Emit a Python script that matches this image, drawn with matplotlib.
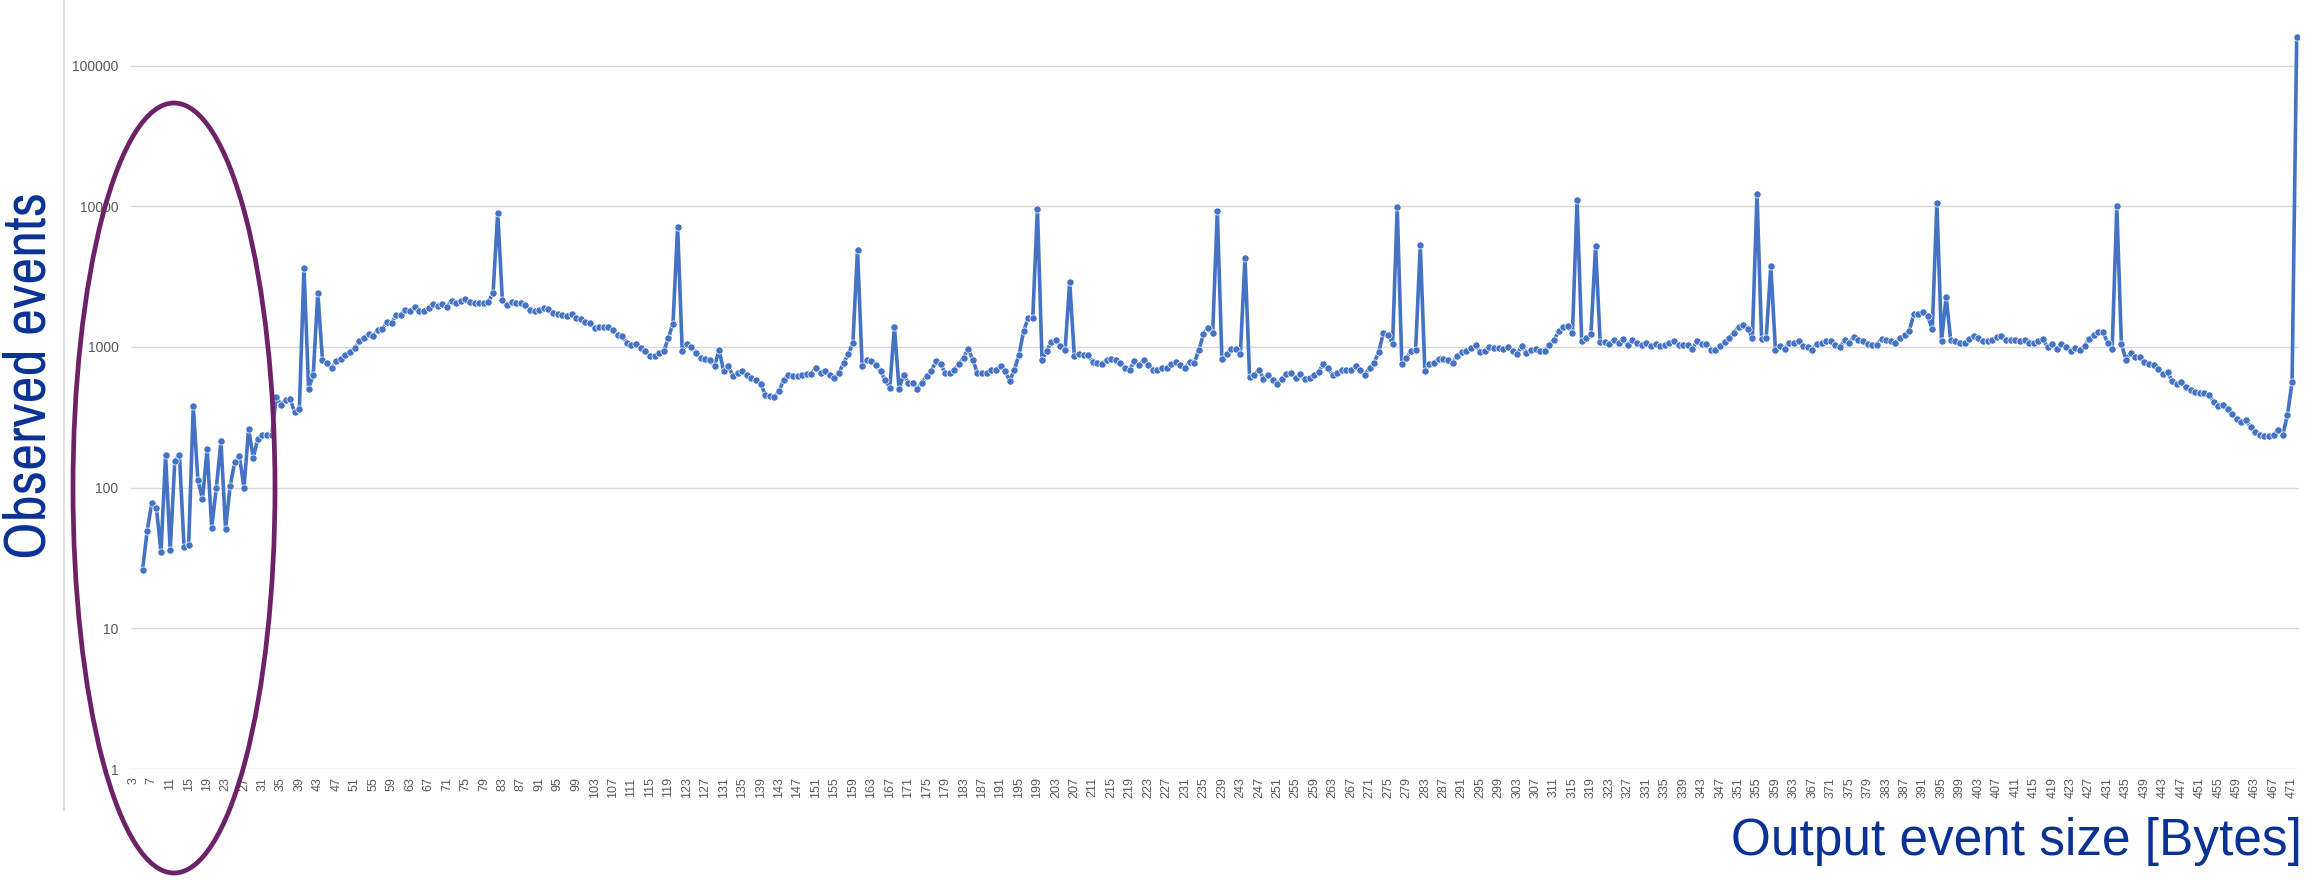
import os
import re
import numpy as np
import matplotlib
matplotlib.use('Agg')
import matplotlib.pyplot as plt
from matplotlib import font_manager
from matplotlib.font_manager import FontProperties
from matplotlib.patches import Ellipse
from matplotlib.lines import Line2D

# event sizes in bytes (3..472), one observation count per size
sizes = list(range(3, 473))
counts = [
    None, None, 26, 49, 78, 72, 35, 170, 36, 155,
    170, 38, 39, 378, 114, 83, 187, 52, 100, 213,
    51, 103, 152, 167, 100, 262, 163, 223, 236, 235,
    235, 440, 389, 423, 427, 343, 362, 3623, 506, 629,
    2433, 813, 774, 705, 792, 826, 882, 921, 984, 1097,
    1159, 1244, 1197, 1314, 1335, 1506, 1482, 1680, 1698, 1842,
    1812, 1923, 1794, 1794, 1905, 2022, 1968, 2022, 1936, 2124,
    2066, 2112, 2183, 2080, 2043, 2043, 2066, 2100, 2433, 8980,
    2170, 1978, 2100, 2043, 2043, 1978, 1823, 1794, 1823, 1893,
    1874, 1745, 1718, 1679, 1662, 1726, 1599, 1573, 1506, 1490,
    1358, 1380, 1380, 1380, 1314, 1224, 1197, 1067, 1039, 1056,
    979, 931, 863, 859, 912, 931, 1159, 1465, 7130, 931,
    1056, 1000, 906, 835, 817, 804, 737, 947, 671, 729,
    622, 653, 675, 629, 599, 580, 548, 458, 446, 441,
    484, 586, 629, 622, 618, 629, 643, 646, 713, 653,
    675, 629, 602, 653, 774, 887, 1067, 4920, 733, 804,
    791, 748, 675, 580, 514, 1388, 506, 636, 557, 557,
    506, 557, 622, 671, 791, 757, 653, 657, 690, 757,
    840, 973, 804, 653, 653, 653, 690, 690, 737, 671,
    573, 690, 873, 1292, 1607, 1617, 9620, 804, 937, 1085,
    1128, 1011, 957, 2897, 863, 897, 882, 873, 782, 769,
    762, 804, 826, 804, 769, 709, 690, 791, 741, 813,
    748, 690, 690, 713, 713, 762, 782, 748, 709, 782,
    769, 947, 1230, 1372, 1258, 9203, 817, 887, 973, 973,
    897, 4313, 612, 636, 690, 595, 636, 580, 548, 595,
    646, 657, 602, 640, 595, 605, 629, 664, 762, 709,
    629, 653, 690, 683, 683, 733, 690, 636, 709, 774,
    921, 1258, 1224, 1056, 9890, 762, 835, 937, 957, 5286,
    671, 762, 774, 826, 826, 804, 774, 859, 921, 931,
    984, 1028, 921, 931, 1000, 990, 990, 973, 1000, 931,
    897, 1011, 912, 947, 962, 937, 937, 1039, 1115, 1292,
    1388, 1402, 1258, 11040, 1103, 1165, 1230, 5200, 1085, 1085,
    1056, 1115, 1067, 1146, 1028, 1128, 1067, 1039, 1074, 1016,
    1045, 1016, 1028, 1067, 1103, 1028, 1028, 1028, 973, 1103,
    1056, 1056, 957, 947, 1016, 1085, 1165, 1264, 1388, 1442,
    1350, 1159, 12170, 1134, 1165, 3767, 947, 1016, 973, 1074,
    1074, 1097, 1011, 1000, 957, 1045, 1074, 1097, 1097, 1028,
    1000, 1115, 1074, 1178, 1115, 1103, 1056, 1039, 1039, 1146,
    1115, 1097, 1074, 1159, 1210, 1300, 1707, 1726, 1773, 1661,
    1336, 10620, 1097, 2265, 1115, 1103, 1074, 1067, 1146, 1197,
    1159, 1103, 1097, 1115, 1178, 1197, 1115, 1115, 1115, 1103,
    1115, 1074, 1074, 1103, 1134, 995, 1046, 967, 1046, 1000,
    930, 988, 956, 1019, 1137, 1224, 1282, 1282, 1066, 973,
    9980, 1047, 810, 904, 847, 847, 787, 759, 738, 692,
    643, 661, 576, 545, 561, 521, 498, 475, 467, 467,
    458, 406, 381, 388, 364, 332, 308, 294, 303, 268,
    249, 238, 234, 234, 238, 257, 238, 329, 561, 160000,
]
x_labels = [str(s) for s in sizes[::4]]
y_ticks = [1, 10, 100, 1000, 10000, 100000]

blue = '#4472C4'
title_blue = '#0a3296'
grey = '#595959'

WEIGHT_WORDS = r'Bold|Black|Medium|Semi|Light|Thin|Italic|Oblique|Heavy|Book'

def narrow_font():
    # regular-weight file of the narrowest installed sans face
    found = []
    for f in font_manager.fontManager.ttflist:
        base = os.path.basename(f.fname)
        stem = re.sub(r'(Extra|Semi|Ultra)?Condensed|Narrow', '', base)
        if re.search(WEIGHT_WORDS, stem) or 'Serif' in base or 'Mono' in base:
            continue
        if 'ExtraCondensed' in base or 'Narrow' in base:
            rank = 0
        elif 'SemiCondensed' in base:
            rank = 2
        elif 'Condensed' in base:
            rank = 1
        else:
            continue
        found.append((rank, base, f.fname))
    if found:
        found.sort()
        return FontProperties(fname=found[0][2])
    return FontProperties(family='DejaVu Sans', stretch='condensed')

def main():
    fig = plt.figure(figsize=(23.06, 8.8), dpi=100)
    ax = fig.add_axes([131 / 2306, 111 / 880, 2168 / 2306, 769 / 880])

    pos = np.arange(len(sizes))
    vals = np.array([np.nan if v is None else v for v in counts], dtype=float)
    ax.plot(pos, vals, color=blue, linewidth=2.6, marker='o', markersize=5.2,
            markerfacecolor=blue, markeredgecolor='white', markeredgewidth=0.5,
            zorder=3)

    ax.set_yscale('log')
    ax.set_ylim(1, 10 ** 5.466)
    ax.set_xlim(-0.5, len(sizes) - 0.5)
    ax.set_yticks(y_ticks)
    ax.set_yticklabels([str(t) for t in y_ticks])
    ax.yaxis.set_minor_locator(matplotlib.ticker.NullLocator())
    ax.set_xticks(pos[::4])
    ax.set_xticklabels(x_labels, rotation=90)
    ax.tick_params(axis='y', length=0, pad=9, labelsize=10, labelcolor=grey)
    ax.tick_params(axis='x', length=0, pad=6, labelsize=9, labelcolor=grey)
    for lab in ax.get_xticklabels() + ax.get_yticklabels():
        lab.set_family('Liberation Sans')
    ax.grid(axis='y', color='#d9d9d9', linewidth=1.0)
    ax.set_axisbelow(True)
    for s in ax.spines.values():
        s.set_visible(False)

    # left border line of the chart area
    fig.add_artist(Line2D([64 / 2306, 64 / 2306], [1.0, 70 / 880],
                          transform=fig.transFigure, color='#d9d9d9', linewidth=1.2))

    ylab = fig.text(29 / 2306, 1 - 375 / 880, 'Observed events', rotation=90,
                    ha='center', va='center', color=title_blue,
                    fontproperties=narrow_font())
    ylab.set_fontsize(40)
    fig.canvas.draw()
    bb = ylab.get_window_extent()
    ylab.set_fontsize(40 * 368 / bb.height)

    fig.text(2302 / 2306, 1 - 841 / 880, 'Output event size [Bytes]',
             ha='right', va='center', fontsize=37, color=title_blue,
             family=['Liberation Sans', 'DejaVu Sans'])

    # highlight of the small-size region
    ell = Ellipse((1.74, 3.92), 2.02, 7.70, transform=fig.dpi_scale_trans,
                  fill=False, edgecolor='#6d2166', linewidth=3.4, zorder=10)
    fig.add_artist(ell)

    fig.savefig('out.png', dpi=100)
    plt.close(fig)

if __name__ == '__main__':
    main()
